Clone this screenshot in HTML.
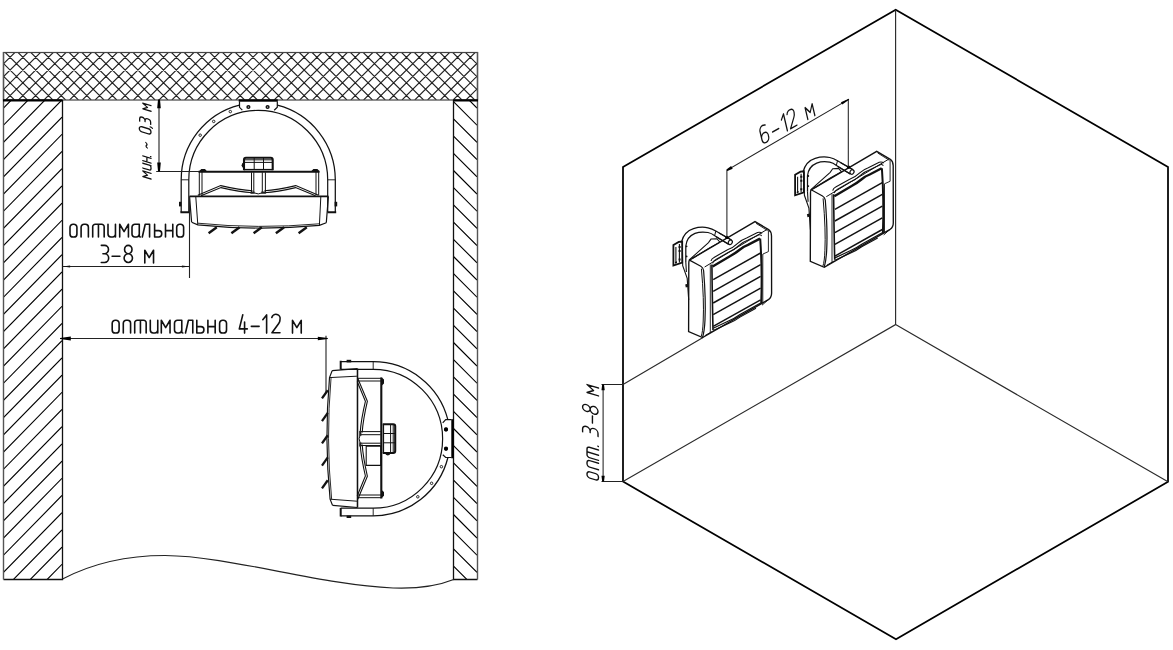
<!DOCTYPE html><html><head><meta charset="utf-8"><style>html,body{margin:0;padding:0;background:#fff;overflow:hidden}</style></head><body><svg width="1173" height="650" viewBox="0 0 1173 650" style="display:block">
<rect width="1173" height="650" fill="#fff"/>
<defs>
<clipPath id="ceil"><rect x="3" y="52" width="474" height="48"/></clipPath>
<clipPath id="lw"><rect x="3" y="100" width="59" height="479"/></clipPath>
<clipPath id="rw"><rect x="453.5" y="100" width="23.5" height="479"/></clipPath>
</defs>
<path clip-path="url(#ceil)" d="M-176.44,52 L-224.44,100 M-163.66,52 L-211.66,100 M-150.87,52 L-198.87,100 M-138.09,52 L-186.09,100 M-125.30,52 L-173.30,100 M-112.52,52 L-160.51,100 M-99.73,52 L-147.73,100 M-86.95,52 L-134.94,100 M-74.16,52 L-122.16,100 M-61.38,52 L-109.38,100 M-48.59,52 L-96.59,100 M-35.80,52 L-83.81,100 M-23.02,52 L-71.02,100 M-10.23,52 L-58.23,100 M2.55,52 L-45.45,100 M15.33,52 L-32.67,100 M28.12,52 L-19.88,100 M40.91,52 L-7.09,100 M53.69,52 L5.69,100 M66.47,52 L18.47,100 M79.26,52 L31.26,100 M92.04,52 L44.04,100 M104.83,52 L56.83,100 M117.62,52 L69.62,100 M130.40,52 L82.40,100 M143.19,52 L95.19,100 M155.97,52 L107.97,100 M168.75,52 L120.75,100 M181.54,52 L133.54,100 M194.32,52 L146.32,100 M207.11,52 L159.11,100 M219.90,52 L171.90,100 M232.68,52 L184.68,100 M245.47,52 L197.47,100 M258.25,52 L210.25,100 M271.04,52 L223.04,100 M283.82,52 L235.82,100 M296.61,52 L248.61,100 M309.39,52 L261.39,100 M322.18,52 L274.18,100 M334.96,52 L286.96,100 M347.75,52 L299.75,100 M360.53,52 L312.53,100 M373.32,52 L325.32,100 M386.10,52 L338.10,100 M398.89,52 L350.89,100 M411.67,52 L363.67,100 M424.46,52 L376.46,100 M437.24,52 L389.24,100 M450.03,52 L402.03,100 M462.81,52 L414.81,100 M475.60,52 L427.60,100 M488.38,52 L440.38,100 M501.16,52 L453.16,100 M513.95,52 L465.95,100 M526.74,52 L478.74,100 M-46.31,52 L1.69,100 M-33.53,52 L14.47,100 M-20.75,52 L27.25,100 M-7.96,52 L40.04,100 M4.83,52 L52.83,100 M17.61,52 L65.61,100 M30.39,52 L78.39,100 M43.18,52 L91.18,100 M55.97,52 L103.97,100 M68.75,52 L116.75,100 M81.53,52 L129.53,100 M94.32,52 L142.32,100 M107.11,52 L155.11,100 M119.89,52 L167.89,100 M132.68,52 L180.68,100 M145.46,52 L193.46,100 M158.25,52 L206.25,100 M171.03,52 L219.03,100 M183.81,52 L231.81,100 M196.60,52 L244.60,100 M209.39,52 L257.38,100 M222.17,52 L270.17,100 M234.96,52 L282.96,100 M247.74,52 L295.74,100 M260.52,52 L308.52,100 M273.31,52 L321.31,100 M286.10,52 L334.10,100 M298.88,52 L346.88,100 M311.66,52 L359.66,100 M324.45,52 L372.45,100 M337.23,52 L385.23,100 M350.02,52 L398.02,100 M362.81,52 L410.81,100 M375.59,52 L423.59,100 M388.38,52 L436.38,100 M401.16,52 L449.16,100 M413.94,52 L461.94,100 M426.73,52 L474.73,100 M439.51,52 L487.51,100 M452.30,52 L500.30,100 M465.08,52 L513.09,100 M477.87,52 L525.87,100" stroke="#222" stroke-width="1.1" fill="none"/>
<rect x="3.5" y="52.5" width="474" height="47.5" fill="none" stroke="#444" stroke-width="1.2"/>
<path clip-path="url(#lw)" d="M3,-80.70 L62,-140.90 M3,-63.50 L62,-123.70 M3,-46.30 L62,-106.50 M3,-29.10 L62,-89.30 M3,-11.90 L62,-72.10 M3,5.30 L62,-54.90 M3,22.50 L62,-37.70 M3,39.70 L62,-20.50 M3,56.90 L62,-3.30 M3,74.10 L62,13.90 M3,91.30 L62,31.10 M3,108.50 L62,48.30 M3,125.70 L62,65.50 M3,142.90 L62,82.70 M3,160.10 L62,99.90 M3,177.30 L62,117.10 M3,194.50 L62,134.30 M3,211.70 L62,151.50 M3,228.90 L62,168.70 M3,246.10 L62,185.90 M3,263.30 L62,203.10 M3,280.50 L62,220.30 M3,297.70 L62,237.50 M3,314.90 L62,254.70 M3,332.10 L62,271.90 M3,349.30 L62,289.10 M3,366.50 L62,306.30 M3,383.70 L62,323.50 M3,400.90 L62,340.70 M3,418.10 L62,357.90 M3,435.30 L62,375.10 M3,452.50 L62,392.30 M3,469.70 L62,409.50 M3,486.90 L62,426.70 M3,504.10 L62,443.90 M3,521.30 L62,461.10 M3,538.50 L62,478.30 M3,555.70 L62,495.50 M3,572.90 L62,512.70 M3,590.10 L62,529.90 M3,607.30 L62,547.10 M3,624.50 L62,564.30 M3,641.70 L62,581.50 M3,658.90 L62,598.70 M3,676.10 L62,615.90 M3,693.30 L62,633.10 M3,710.50 L62,650.30 M3,727.70 L62,667.50 M3,744.90 L62,684.70 M3,762.10 L62,701.90 M3,779.30 L62,719.10 M3,796.50 L62,736.30" stroke="#000" stroke-width="1.15" fill="none"/>
<path clip-path="url(#rw)" d="M453.5,789.70 L477,813.20 M453.5,772.50 L477,796.00 M453.5,755.30 L477,778.80 M453.5,738.10 L477,761.60 M453.5,720.90 L477,744.40 M453.5,703.70 L477,727.20 M453.5,686.50 L477,710.00 M453.5,669.30 L477,692.80 M453.5,652.10 L477,675.60 M453.5,634.90 L477,658.40 M453.5,617.70 L477,641.20 M453.5,600.50 L477,624.00 M453.5,583.30 L477,606.80 M453.5,566.10 L477,589.60 M453.5,548.90 L477,572.40 M453.5,531.70 L477,555.20 M453.5,514.50 L477,538.00 M453.5,497.30 L477,520.80 M453.5,480.10 L477,503.60 M453.5,462.90 L477,486.40 M453.5,445.70 L477,469.20 M453.5,428.50 L477,452.00 M453.5,411.30 L477,434.80 M453.5,394.10 L477,417.60 M453.5,376.90 L477,400.40 M453.5,359.70 L477,383.20 M453.5,342.50 L477,366.00 M453.5,325.30 L477,348.80 M453.5,308.10 L477,331.60 M453.5,290.90 L477,314.40 M453.5,273.70 L477,297.20 M453.5,256.50 L477,280.00 M453.5,239.30 L477,262.80 M453.5,222.10 L477,245.60 M453.5,204.90 L477,228.40 M453.5,187.70 L477,211.20 M453.5,170.50 L477,194.00 M453.5,153.30 L477,176.80 M453.5,136.10 L477,159.60 M453.5,118.90 L477,142.40 M453.5,101.70 L477,125.20 M453.5,84.50 L477,108.00 M453.5,67.30 L477,90.80 M453.5,50.10 L477,73.60 M453.5,32.90 L477,56.40 M453.5,15.70 L477,39.20 M453.5,-1.50 L477,22.00 M453.5,-18.70 L477,4.80 M453.5,-35.90 L477,-12.40 M453.5,-53.10 L477,-29.60 M453.5,-70.30 L477,-46.80 M453.5,-87.50 L477,-64.00" stroke="#000" stroke-width="1.15" fill="none"/>
<path d="M3.5,579.5 H62.5 V100 M453.5,100 V579.5 H477.5" fill="none" stroke="#111" stroke-width="1.3"/>
<path d="M3.5,52 V579.5 M477.5,52 V579.5" fill="none" stroke="#555" stroke-width="1.4"/>
<path d="M3,100.3 H62.5 M453.5,100.3 H478" stroke="#000" stroke-width="2.2"/>
<path d="M62.5,579 C95,562 130,555.5 165,555.5 C230,556 320,585 393,588 C420,589 440,585 453.7,579.5" fill="none" stroke="#222" stroke-width="1.2"/>
<g id="h1"><path fill="none" stroke="#111" stroke-width="1.25" d="M181.20,212.3 V179.8 A77.05,77.05 0 0 1 239.5,105.07 M277.3,105.14 A77.05,77.05 0 0 1 335.30,179.8 V212.3"/>
<path fill="none" stroke="#111" stroke-width="1.2" d="M188.80,212.3 V179.8 A69.45,69.45 0 0 1 327.70,179.8 V212.3"/>
<path fill="none" stroke="#111" stroke-width="0.9" d="M181.20,179.8 H188.80 M327.70,179.8 H335.30"/>
<path fill="none" stroke="#111" stroke-width="2" d="M180.4,212.3 H189 M327.5,212.3 H336.2"/>
<rect x="179" y="201.8" width="2.4" height="4.6" fill="#111"/>
<rect x="334.6" y="201.8" width="2.6" height="4.6" fill="#111"/>
<circle cx="230.3" cy="111.6" r="1.25" fill="none" stroke="#111" stroke-width="0.9"/>
<circle cx="213.7" cy="121.4" r="1.25" fill="none" stroke="#111" stroke-width="0.9"/>
<circle cx="200.2" cy="135.2" r="1.25" fill="none" stroke="#111" stroke-width="0.9"/>
<path fill="none" stroke="#111" stroke-width="1.2" d="M239.5,101.5 V107.3 L242.3,110.2 M277.3,101.5 V107.3 L274.2,110.3"/>
<rect x="238.7" y="99.3" width="39.1" height="2.4" fill="#000"/>
<circle cx="248.4" cy="107" r="1.35" fill="none" stroke="#111" stroke-width="1.5"/>
<circle cx="267.6" cy="107" r="1.35" fill="none" stroke="#111" stroke-width="1.5"/>
<path fill="none" stroke="#111" stroke-width="2.1" d="M198.5,171.7 H319.5"/>
<path d="M198.8,171.6 L201.3,169 H205 L207.2,171.6 Z M310.9,171.6 L313.4,169 H317.4 L319.8,171.6 Z" fill="#111"/>
<path fill="none" stroke="#111" stroke-width="1" d="M199.3,172 V195.6 M202,172 V195.6 M316,172 V195.2 M318.7,172 V195.2"/>
<path fill="none" stroke="#111" stroke-width="1.1" d="M197.8,195.2 L220.7,185.6 Q240,190 252.5,190.8 M264.5,190.8 Q277,190 295.8,185.6 L318.5,195.2"/>
<path fill="none" stroke="#111" stroke-width="1.1" d="M201,195.8 L221,187.6 Q240,192 252.5,192.8 M264.5,192.8 Q277,192 295.6,187.6 L315.5,195.8"/>
<path fill="none" stroke="#111" stroke-width="1" d="M251.5,172.3 V192.6 M253.8,172.3 V192.6 M262.3,172.3 V192.6 M265.4,172.3 V192.6 M253.8,192.8 Q258.5,195 262.3,192.8"/>
<path d="M250.5,191.6 h4 v2.2 h-4 Z M261.3,191.6 h4.6 v2.2 h-4.6 Z" fill="#222"/>
<path fill="none" stroke="#111" stroke-width="2.1" d="M244,170.3 V159.8 Q244,157.8 246,157.8 H270.7 Q272.7,157.8 272.7,159.8 V170.3"/>
<path fill="none" stroke="#111" stroke-width="1" d="M245,159.8 H272 M245,162.4 H272 M254.2,158 V170 M263.5,158 V170"/>
<path d="M244.2,162.3 Q241.6,162.8 241.6,165.2 Q241.6,167.6 244.2,168 Z" fill="#111"/>
<path fill="none" stroke="#111" stroke-width="1.4" d="M244,169.6 H272.7"/>

<path fill="none" stroke="#111" stroke-width="1.6" d="M189.5,196.4 H328.4"/>
<path fill="none" stroke="#111" stroke-width="1.2" d="M189.5,196.4 L191.6,222 M328.4,196.4 L326.3,222.7"/>
<path fill="none" stroke="#111" stroke-width="1" d="M195.8,197 L197.8,224.8 M320.8,197 L319.4,225.4"/>
<path fill="none" stroke="#111" stroke-width="1.2" d="M191.6,222.2 L197.8,224.8 Q258,231 319.4,225.4 L326.3,222.7"/>
<path fill="none" stroke="#111" stroke-width="0.9" d="M197.8,223.2 Q258,229.3 319.4,223.8"/>
<path fill="none" stroke="#111" stroke-width="2.4" d="M208.6,233.2 L216.8,227.2"/>
<path fill="none" stroke="#111" stroke-width="2.4" d="M231.4,233.2 L239.6,227.2"/>
<path fill="none" stroke="#111" stroke-width="2.4" d="M253.6,233.2 L261.8,227.2"/>
<path fill="none" stroke="#111" stroke-width="2.4" d="M275.9,233.2 L284.1,227.2"/>
<path fill="none" stroke="#111" stroke-width="2.4" d="M298.6,233.2 L306.8,227.2"/></g>
<g transform="matrix(0,-1,-1,0,553,697)"><path fill="none" stroke="#111" stroke-width="1.25" d="M181.20,212.3 V179.8 A77.05,77.05 0 0 1 239.5,105.07 M277.3,105.14 A77.05,77.05 0 0 1 335.30,179.8 V212.3"/>
<path fill="none" stroke="#111" stroke-width="1.2" d="M188.80,212.3 V179.8 A69.45,69.45 0 0 1 327.70,179.8 V212.3"/>
<path fill="none" stroke="#111" stroke-width="0.9" d="M181.20,179.8 H188.80 M327.70,179.8 H335.30"/>
<path fill="none" stroke="#111" stroke-width="2" d="M180.4,212.3 H189 M327.5,212.3 H336.2"/>
<rect x="179" y="201.8" width="2.4" height="4.6" fill="#111"/>
<rect x="334.6" y="201.8" width="2.6" height="4.6" fill="#111"/>
<circle cx="230.3" cy="111.6" r="1.25" fill="none" stroke="#111" stroke-width="0.9"/>
<circle cx="213.7" cy="121.4" r="1.25" fill="none" stroke="#111" stroke-width="0.9"/>
<circle cx="200.2" cy="135.2" r="1.25" fill="none" stroke="#111" stroke-width="0.9"/>
<path fill="none" stroke="#111" stroke-width="1.2" d="M239.5,101.5 V107.3 L242.3,110.2 M277.3,101.5 V107.3 L274.2,110.3"/>
<rect x="238.7" y="99.3" width="39.1" height="2.4" fill="#000"/>
<circle cx="248.4" cy="107" r="1.35" fill="none" stroke="#111" stroke-width="1.5"/>
<circle cx="267.6" cy="107" r="1.35" fill="none" stroke="#111" stroke-width="1.5"/>
<path fill="none" stroke="#111" stroke-width="2.1" d="M198.5,171.7 H319.5"/>
<path d="M198.8,171.6 L201.3,169 H205 L207.2,171.6 Z M310.9,171.6 L313.4,169 H317.4 L319.8,171.6 Z" fill="#111"/>
<path fill="none" stroke="#111" stroke-width="1" d="M199.3,172 V195.6 M202,172 V195.6 M316,172 V195.2 M318.7,172 V195.2"/>
<path fill="none" stroke="#111" stroke-width="1.1" d="M197.8,195.2 L220.7,185.6 Q240,190 252.5,190.8 M264.5,190.8 Q277,190 295.8,185.6 L318.5,195.2"/>
<path fill="none" stroke="#111" stroke-width="1.1" d="M201,195.8 L221,187.6 Q240,192 252.5,192.8 M264.5,192.8 Q277,192 295.6,187.6 L315.5,195.8"/>
<path fill="none" stroke="#111" stroke-width="1" d="M251.5,172.3 V192.6 M253.8,172.3 V192.6 M262.3,172.3 V192.6 M265.4,172.3 V192.6 M253.8,192.8 Q258.5,195 262.3,192.8"/>
<path d="M250.5,191.6 h4 v2.2 h-4 Z M261.3,191.6 h4.6 v2.2 h-4.6 Z" fill="#222"/>
<path fill="none" stroke="#111" stroke-width="2.1" d="M244,170.3 V159.8 Q244,157.8 246,157.8 H270.7 Q272.7,157.8 272.7,159.8 V170.3"/>
<path fill="none" stroke="#111" stroke-width="1" d="M245,159.8 H272 M245,162.4 H272 M254.2,158 V170 M263.5,158 V170"/>
<path d="M244.2,162.3 Q241.6,162.8 241.6,165.2 Q241.6,167.6 244.2,168 Z" fill="#111"/>
<path fill="none" stroke="#111" stroke-width="1.4" d="M244,169.6 H272.7"/>
<g transform="translate(0,171) scale(1,0.965) translate(0,-171)">
<path fill="none" stroke="#111" stroke-width="1.6" d="M189.5,196.4 H328.4"/>
<path fill="none" stroke="#111" stroke-width="1.2" d="M189.5,196.4 L191.6,222 M328.4,196.4 L326.3,222.7"/>
<path fill="none" stroke="#111" stroke-width="1" d="M195.8,197 L197.8,224.8 M320.8,197 L319.4,225.4"/>
<path fill="none" stroke="#111" stroke-width="1.2" d="M191.6,222.2 L197.8,224.8 Q258,231 319.4,225.4 L326.3,222.7"/>
<path fill="none" stroke="#111" stroke-width="0.9" d="M197.8,223.2 Q258,229.3 319.4,223.8"/>
<path fill="none" stroke="#111" stroke-width="2.4" d="M208.6,233.2 L216.8,227.2"/>
<path fill="none" stroke="#111" stroke-width="2.4" d="M231.4,233.2 L239.6,227.2"/>
<path fill="none" stroke="#111" stroke-width="2.4" d="M253.6,233.2 L261.8,227.2"/>
<path fill="none" stroke="#111" stroke-width="2.4" d="M275.9,233.2 L284.1,227.2"/>
<path fill="none" stroke="#111" stroke-width="2.4" d="M298.6,233.2 L306.8,227.2"/></g></g>
<path d="M366.2,446.2 H380.8 V465.4 H366.2 Z" fill="none" stroke="#111" stroke-width="1.1"/>
<circle cx="446" cy="429.5" r="1.9" fill="#000"/><circle cx="446" cy="448.8" r="1.9" fill="#000"/>
<path d="M159,100.5 V171.2 M156.2,171.5 H199" stroke="#222" stroke-width="1.1" fill="none"/>
<path d="M158,99.6 H160 L160.8,108.2 H157.2 Z" fill="#000"/>
<path d="M158,171.2 H160 L160.8,162.6 H157.2 Z" fill="#000"/>
<path d="M62.5,266.5 H189.5 M189.5,197 V278" stroke="#222" stroke-width="1.1" fill="none"/>
<path d="M62.60,266.50 L70.10,265.40 L70.10,267.60 Z" fill="#111"/>
<path d="M189.40,266.50 L181.90,267.60 L181.90,265.40 Z" fill="#111"/>
<path d="M62.5,338.5 H326 M326,335.7 V392" stroke="#222" stroke-width="1.1" fill="none"/>
<path d="M60.00,338.05 L60.00,338.95 L70.80,340.40 L70.80,336.60 Z" fill="#000"/>
<path d="M327.80,338.95 L327.80,338.05 L317.80,336.70 L317.80,340.30 Z" fill="#000"/>
<g transform="matrix(1.8200,0.0000,0.0000,1.8200,70.000,218.800)" fill="none" stroke="#111" stroke-width="0.879" stroke-linecap="round" stroke-linejoin="round"><path transform="translate(0.000,0)" d="M0,4.7 V8.3 A1.7,1.7 0 0 0 1.7,10 H2.1 A1.7,1.7 0 0 0 3.8,8.3 V4.7 A1.7,1.7 0 0 0 2.1,3 H1.7 A1.7,1.7 0 0 0 0,4.7 Z"/><path transform="translate(6.099,0)" d="M0,10 V4.6 A1.6,1.6 0 0 1 1.6,3 H2.4 A1.6,1.6 0 0 1 4,4.6 V10"/><path transform="translate(12.473,0)" d="M0,10 V4.4 A1.4,1.4 0 0 1 1.4,3 H4.9 A1.4,1.4 0 0 1 6.3,4.4 V10 M3.15,3 V10"/><path transform="translate(20.879,0)" d="M0,3 V8.4 A1.6,1.6 0 0 0 1.6,10 H2.5 A1.6,1.6 0 0 0 4.1,8.4 M4.1,3 V10"/><path transform="translate(27.308,0)" d="M0,10 V3 L2.4,7.0 L4.8,3 V10"/><path transform="translate(34.066,0)" d="M4.0,3 V9.3 Q4.0,10 4.6,10 M4.0,8.4 A1.6,1.6 0 0 1 2.4,10 H1.6 A1.6,1.6 0 0 1 0,8.4 V4.6 A1.6,1.6 0 0 1 1.6,3 H4.0"/><path transform="translate(39.725,0)" d="M0,10 L1.6,3 H4.0 V10"/><path transform="translate(46.484,0)" d="M0,3 V10 H2.3 A1.6,1.6 0 0 0 3.9,8.4 V8.1 A1.6,1.6 0 0 0 2.3,6.5 H0"/><path transform="translate(52.473,0)" d="M0,3 V10 M4.0,3 V10 M0,6.5 H4.0"/><path transform="translate(58.626,0)" d="M0,4.7 V8.3 A1.7,1.7 0 0 0 1.7,10 H2.1 A1.7,1.7 0 0 0 3.8,8.3 V4.7 A1.7,1.7 0 0 0 2.1,3 H1.7 A1.7,1.7 0 0 0 0,4.7 Z"/></g>
<g transform="matrix(1.8200,0.0000,0.0000,1.8200,101.300,244.800)" fill="none" stroke="#111" stroke-width="0.879" stroke-linecap="round" stroke-linejoin="round"><path transform="translate(0.000,0)" d="M0,0.3 H1.8 A2.15,2.3 0 0 1 1.8,4.9 H0.9 M1.8,4.9 A2.25,2.4 0 0 1 1.8,9.7 H0"/><path transform="translate(12.527,0)" d="M2.3,4.9 A2.05,2.3 0 1 1 2.3,0.3 A2.05,2.3 0 1 1 2.3,4.9 Z M2.3,4.9 A2.3,2.4 0 1 1 2.3,9.7 A2.3,2.4 0 1 1 2.3,4.9 Z"/><path transform="translate(23.901,0)" d="M0,10 V3 L2.4,7.0 L4.8,3 V10"/></g>
<g transform="matrix(1.8200,0.0000,0.0000,1.8200,112.100,244.800)" fill="none" stroke="#111" stroke-width="0.879" stroke-linecap="round" stroke-linejoin="round"><path transform="translate(0.000,0)" d="M0,6.3 H4.3"/></g>
<g transform="matrix(1.8200,0.0000,0.0000,1.8200,112.200,314.800)" fill="none" stroke="#111" stroke-width="0.879" stroke-linecap="round" stroke-linejoin="round"><path transform="translate(0.000,0)" d="M0,4.7 V8.3 A1.7,1.7 0 0 0 1.7,10 H2.1 A1.7,1.7 0 0 0 3.8,8.3 V4.7 A1.7,1.7 0 0 0 2.1,3 H1.7 A1.7,1.7 0 0 0 0,4.7 Z"/><path transform="translate(6.099,0)" d="M0,10 V4.6 A1.6,1.6 0 0 1 1.6,3 H2.4 A1.6,1.6 0 0 1 4,4.6 V10"/><path transform="translate(12.363,0)" d="M0,10 V4.4 A1.4,1.4 0 0 1 1.4,3 H4.9 A1.4,1.4 0 0 1 6.3,4.4 V10 M3.15,3 V10"/><path transform="translate(20.934,0)" d="M0,3 V8.4 A1.6,1.6 0 0 0 1.6,10 H2.5 A1.6,1.6 0 0 0 4.1,8.4 M4.1,3 V10"/><path transform="translate(26.978,0)" d="M0,10 V3 L2.4,7.0 L4.8,3 V10"/><path transform="translate(34.231,0)" d="M4.0,3 V9.3 Q4.0,10 4.6,10 M4.0,8.4 A1.6,1.6 0 0 1 2.4,10 H1.6 A1.6,1.6 0 0 1 0,8.4 V4.6 A1.6,1.6 0 0 1 1.6,3 H4.0"/><path transform="translate(40.275,0)" d="M0,10 L1.6,3 H4.0 V10"/><path transform="translate(46.484,0)" d="M0,3 V10 H2.3 A1.6,1.6 0 0 0 3.9,8.4 V8.1 A1.6,1.6 0 0 0 2.3,6.5 H0"/><path transform="translate(52.582,0)" d="M0,3 V10 M4.0,3 V10 M0,6.5 H4.0"/><path transform="translate(59.011,0)" d="M0,4.7 V8.3 A1.7,1.7 0 0 0 1.7,10 H2.1 A1.7,1.7 0 0 0 3.8,8.3 V4.7 A1.7,1.7 0 0 0 2.1,3 H1.7 A1.7,1.7 0 0 0 0,4.7 Z"/></g>
<g transform="matrix(1.8200,0.0000,0.0000,1.8200,239.300,314.900)" fill="none" stroke="#111" stroke-width="0.879" stroke-linecap="round" stroke-linejoin="round"><path transform="translate(0.000,0)" d="M1.9,0 L0,7.7 H4.4 M2.9,3.9 V10"/><path transform="translate(6.593,0)" d="M0,6.3 H4.3"/><path transform="translate(12.912,0)" d="M0,2.6 L2.1,0 V10"/><path transform="translate(17.857,0)" d="M0,1.4 A2.3,2.3 0 0 1 4.5,2.6 Q4.5,3.7 3.8,4.7 L0.1,9.8 H4.5"/><path transform="translate(29.231,0)" d="M0,10 V3 L2.4,7.0 L4.8,3 V10"/></g>
<g transform="matrix(0.0000,-1.1700,1.1700,0.3510,139.300,175.490)" fill="none" stroke="#111" stroke-width="1.111" stroke-linecap="round" stroke-linejoin="round"><path transform="translate(0.000,0)" d="M0,10 V3 L2.4,7.0 L4.8,3 V10"/><path transform="translate(7.250,0)" d="M0,3 V8.4 A1.6,1.6 0 0 0 1.6,10 H2.5 A1.6,1.6 0 0 0 4.1,8.4 M4.1,3 V10"/><path transform="translate(13.600,0)" d="M0,3 V10 M4.0,3 V10 M0,6.5 H4.0"/><path transform="translate(18.600,0)" d="M0.45,9.6 V9.9"/><path transform="translate(25.600,0)" d="M0,6.8 Q1,5.2 2.1,6.2 Q3.2,7.2 4.2,5.6"/><path transform="translate(37.900,0)" d="M0,2.2 V7.8 A2.2,2.2 0 0 0 4.4,7.8 V2.2 A2.2,2.2 0 0 0 0,2.2 Z"/><path transform="translate(43.400,0)" d="M0.9,9.3 V9.8 L0.3,11.2"/><path transform="translate(46.600,0)" d="M0,0.3 H1.8 A2.15,2.3 0 0 1 1.8,4.9 H0.9 M1.8,4.9 A2.25,2.4 0 0 1 1.8,9.7 H0"/><path transform="translate(57.900,0)" d="M0,10 V3 L2.4,7.0 L4.8,3 V10"/></g>
<path d="M895.7,9.7 L1168,167 V481.8 L896,639.2 L623,481.6 V167 Z" fill="none" stroke="#000" stroke-width="1.75" stroke-linejoin="miter"/>
<path d="M895.6,10 V324.6 L623,481.6 M895.6,324.6 L1168,481.8 M623,384.4 L703,337.6" fill="none" stroke="#2a2a2a" stroke-width="1.15"/>
<g transform="translate(0,0)">
<path fill="none" stroke="#111" stroke-width="1.8" fill="#fff" d="M673.4,245 L678.8,241.9 L682.2,241.6 V262.6 L673.4,265.6 Z"/>
<path fill="none" stroke="#111" stroke-width="1.1" d="M675.9,247 V263.5 M679.4,244 V262.5"/>
<path d="M678.6,246 h2 v2 h-2 Z M678.6,250 h2 v2 h-2 Z M678.6,258.5 h2 v2 h-2 Z M675,262 l2,-0.7 v1.6 l-2,0.6 Z" fill="#111"/>
<path fill="none" stroke="#111" stroke-width="1.1" d="M682.3,242 L682.7,265.6 L687.2,278.4 L688.7,300 M685.8,262 L686.4,272"/>
<path d="M685.2,284.6 l2.4,-0.8 l0.6,3 l-2.4,0.8 Z" fill="#111"/>
<circle cx="686.6" cy="246.3" r="0.9" fill="#111"/><circle cx="686.6" cy="256.4" r="0.9" fill="#111"/>
<path fill="none" stroke="#111" stroke-width="1.25" d="M681.5,241.8 C683,236 687.5,230.5 693.5,228.6 C698.5,227.1 704,227 708,227.8 C711,228.5 713.8,229.8 715.8,231 L731.4,240"/>
<path fill="none" stroke="#111" stroke-width="1.25" d="M685.8,262 V246 C686.4,240.5 689.8,235.5 695,233.4 C699,231.9 704,231.8 708,232.5 C710.5,233 712.8,234.3 714.8,235.8 L728.6,244.3"/>
<path fill="none" stroke="#111" stroke-width="1" d="M715.8,231 L714.6,235.8"/>
<path fill="none" stroke="#111" stroke-width="1.05" d="M688.9,260.2 L708.5,242.6 L711,239.1 L716.9,238.7 L719.9,242.1 M692.6,258.3 L708.2,248.6 L719.9,242.1"/>
<path fill="none" stroke="#111" stroke-width="1.35" fill="#fff" d="M689.5,260.1 L755,221.6 L768.6,229.6 Q771.4,231.5 771.5,236 L771.6,293 Q771.6,297.6 768.4,299.6 L702.6,337.6 L688.6,331.6 L688.8,263 Q688.8,260.6 689.5,260.1 Z"/>
<path fill="none" stroke="#111" stroke-width="1.2" d="M719,233 L731.4,240 M716,236.8 L728.6,244.3"/>
<ellipse cx="730.3" cy="242.3" rx="1.9" ry="2.4" transform="rotate(30 730.3 242.3)" fill="none" stroke="#111" fill="#fff" stroke-width="1.2"/>
<circle cx="726.9" cy="237.4" r="1.7" fill="#000"/>
<path fill="none" stroke="#111" stroke-width="0.9" d="M756,223.3 L767.6,230.6"/>
<path fill="none" stroke="#111" stroke-width="1.2" d="M689.5,260.1 L700.8,266.3 Q703.2,267.6 703.6,270.5 Q706,300 705,320 Q704.5,331 702.6,337.2"/>
<path fill="none" stroke="#111" stroke-width="1.0" d="M701.4,268.6 Q704.2,300 703.2,321 Q702.8,332 701.2,336.4"/>
<path fill="none" stroke="#111" stroke-width="0.9" d="M710.3,264.5 V333"/>
<path fill="none" stroke="#111" stroke-width="1" d="M704.6,267.0 L767.1,229.4"/>
<path fill="none" stroke="#111" stroke-width="1.1" d="M711,261 Q711.5,258.6 714,257.4 L727.5,249.8 Q733,248 738,243.2 Q742.4,239.4 746.6,238 L757.5,232.5 Q760.5,231.7 762,233.5"/>
<path fill="none" stroke="#111" stroke-width="1.05" d="M712.6,263.4 Q713,261 715.5,259.8 L728.5,252.2 Q734,250.2 739,245.5 Q743.4,241.7 747.6,240.3 L758.5,235 Q761,234.4 761.6,236"/>
<path fill="none" stroke="#111" stroke-width="2.4" d="M712.6,266.5 L729.5,256.5 Q735,253.6 740,249.5 Q744,246.3 748,244.8 L760,238.6"/>
<path fill="none" stroke="#111" stroke-width="0.9" d="M768.4,230.5 V251.6 L763,254 M762.8,254 V303"/>
<path fill="none" stroke="#111" stroke-width="1.5" d="M713.2,279.6 L760.6,253.0"/>
<path fill="none" stroke="#111" stroke-width="1.5" d="M713.2,291.3 L760.6,264.7"/>
<path fill="none" stroke="#111" stroke-width="1.5" d="M713.2,303.0 L760.6,276.4"/>
<path fill="none" stroke="#111" stroke-width="1.5" d="M713.2,314.7 L760.6,288.1"/>
<path fill="none" stroke="#111" stroke-width="1.5" d="M713.2,326.4 L760.6,299.8"/>
<path fill="none" stroke="#111" stroke-width="1.6" d="M711.9,264.5 Q712.3,300 713,330"/>
<path fill="none" stroke="#111" stroke-width="2.0" d="M760.2,238.5 Q762.4,270 761.2,303.5"/>
<path fill="none" stroke="#111" stroke-width="1.2" d="M713.2,328.2 L729,320.8 Q734.5,318.6 740,314.6 L760.6,303"/>
<path fill="none" stroke="#111" stroke-width="1.1" d="M713.2,330.5 L729,323.3 Q734.5,321.1 740,317.1 L756,308.2"/>
<path fill="none" stroke="#111" stroke-width="1" d="M705,335.6 L713,331 M762,305.2 L768.4,299.6"/>
</g>
<g transform="translate(121.7,-70.3)">
<path fill="none" stroke="#111" stroke-width="1.8" fill="#fff" d="M673.4,245 L678.8,241.9 L682.2,241.6 V262.6 L673.4,265.6 Z"/>
<path fill="none" stroke="#111" stroke-width="1.1" d="M675.9,247 V263.5 M679.4,244 V262.5"/>
<path d="M678.6,246 h2 v2 h-2 Z M678.6,250 h2 v2 h-2 Z M678.6,258.5 h2 v2 h-2 Z M675,262 l2,-0.7 v1.6 l-2,0.6 Z" fill="#111"/>
<path fill="none" stroke="#111" stroke-width="1.1" d="M682.3,242 L682.7,265.6 L687.2,278.4 L688.7,300 M685.8,262 L686.4,272"/>
<path d="M685.2,284.6 l2.4,-0.8 l0.6,3 l-2.4,0.8 Z" fill="#111"/>
<circle cx="686.6" cy="246.3" r="0.9" fill="#111"/><circle cx="686.6" cy="256.4" r="0.9" fill="#111"/>
<path fill="none" stroke="#111" stroke-width="1.25" d="M681.5,241.8 C683,236 687.5,230.5 693.5,228.6 C698.5,227.1 704,227 708,227.8 C711,228.5 713.8,229.8 715.8,231 L731.4,240"/>
<path fill="none" stroke="#111" stroke-width="1.25" d="M685.8,262 V246 C686.4,240.5 689.8,235.5 695,233.4 C699,231.9 704,231.8 708,232.5 C710.5,233 712.8,234.3 714.8,235.8 L728.6,244.3"/>
<path fill="none" stroke="#111" stroke-width="1" d="M715.8,231 L714.6,235.8"/>
<path fill="none" stroke="#111" stroke-width="1.05" d="M688.9,260.2 L708.5,242.6 L711,239.1 L716.9,238.7 L719.9,242.1 M692.6,258.3 L708.2,248.6 L719.9,242.1"/>
<path fill="none" stroke="#111" stroke-width="1.35" fill="#fff" d="M689.5,260.1 L755,221.6 L768.6,229.6 Q771.4,231.5 771.5,236 L771.6,293 Q771.6,297.6 768.4,299.6 L702.6,337.6 L688.6,331.6 L688.8,263 Q688.8,260.6 689.5,260.1 Z"/>
<path fill="none" stroke="#111" stroke-width="1.2" d="M719,233 L731.4,240 M716,236.8 L728.6,244.3"/>
<ellipse cx="730.3" cy="242.3" rx="1.9" ry="2.4" transform="rotate(30 730.3 242.3)" fill="none" stroke="#111" fill="#fff" stroke-width="1.2"/>
<circle cx="726.9" cy="237.4" r="1.7" fill="#000"/>
<path fill="none" stroke="#111" stroke-width="0.9" d="M756,223.3 L767.6,230.6"/>
<path fill="none" stroke="#111" stroke-width="1.2" d="M689.5,260.1 L700.8,266.3 Q703.2,267.6 703.6,270.5 Q706,300 705,320 Q704.5,331 702.6,337.2"/>
<path fill="none" stroke="#111" stroke-width="1.0" d="M701.4,268.6 Q704.2,300 703.2,321 Q702.8,332 701.2,336.4"/>
<path fill="none" stroke="#111" stroke-width="0.9" d="M710.3,264.5 V333"/>
<path fill="none" stroke="#111" stroke-width="1" d="M704.6,267.0 L767.1,229.4"/>
<path fill="none" stroke="#111" stroke-width="1.1" d="M711,261 Q711.5,258.6 714,257.4 L727.5,249.8 Q733,248 738,243.2 Q742.4,239.4 746.6,238 L757.5,232.5 Q760.5,231.7 762,233.5"/>
<path fill="none" stroke="#111" stroke-width="1.05" d="M712.6,263.4 Q713,261 715.5,259.8 L728.5,252.2 Q734,250.2 739,245.5 Q743.4,241.7 747.6,240.3 L758.5,235 Q761,234.4 761.6,236"/>
<path fill="none" stroke="#111" stroke-width="2.4" d="M712.6,266.5 L729.5,256.5 Q735,253.6 740,249.5 Q744,246.3 748,244.8 L760,238.6"/>
<path fill="none" stroke="#111" stroke-width="0.9" d="M768.4,230.5 V251.6 L763,254 M762.8,254 V303"/>
<path fill="none" stroke="#111" stroke-width="1.5" d="M713.2,279.6 L760.6,253.0"/>
<path fill="none" stroke="#111" stroke-width="1.5" d="M713.2,291.3 L760.6,264.7"/>
<path fill="none" stroke="#111" stroke-width="1.5" d="M713.2,303.0 L760.6,276.4"/>
<path fill="none" stroke="#111" stroke-width="1.5" d="M713.2,314.7 L760.6,288.1"/>
<path fill="none" stroke="#111" stroke-width="1.5" d="M713.2,326.4 L760.6,299.8"/>
<path fill="none" stroke="#111" stroke-width="1.6" d="M711.9,264.5 Q712.3,300 713,330"/>
<path fill="none" stroke="#111" stroke-width="2.0" d="M760.2,238.5 Q762.4,270 761.2,303.5"/>
<path fill="none" stroke="#111" stroke-width="1.2" d="M713.2,328.2 L729,320.8 Q734.5,318.6 740,314.6 L760.6,303"/>
<path fill="none" stroke="#111" stroke-width="1.1" d="M713.2,330.5 L729,323.3 Q734.5,321.1 740,317.1 L756,308.2"/>
<path fill="none" stroke="#111" stroke-width="1" d="M705,335.6 L713,331 M762,305.2 L768.4,299.6"/>
</g>
<path d="M726.9,237 V170.3 L848.3,99.6 V166.8" fill="none" stroke="#222" stroke-width="1.05"/>
<path d="M726.45,169.52 L727.35,171.08 L732.72,168.79 L731.12,166.01 Z" fill="#000"/>
<path d="M849.20,99.45 L848.80,98.75 L840.94,102.14 L842.34,104.56 Z" fill="#000"/>
<g transform="matrix(1.4600,-0.8100,0.4000,1.7000,759.050,127.400)" fill="none" stroke="#111" stroke-width="0.806" stroke-linecap="round" stroke-linejoin="round"><path transform="translate(0.000,0)" d="M4.0,0.5 Q3.4,0 2.3,0 A2.3,2.5 0 0 0 0,2.5 V7.5 A2.25,2.4 0 0 0 4.5,7.5 V7.1 A2.25,2.4 0 0 0 0.05,6.2"/><path transform="translate(7.500,0)" d="M0,6.3 H4.3"/><path transform="translate(14.600,0)" d="M0,2.6 L2.1,0 V10"/><path transform="translate(18.800,0)" d="M0,1.4 A2.3,2.3 0 0 1 4.5,2.6 Q4.5,3.7 3.8,4.7 L0.1,9.8 H4.5"/><path transform="translate(30.700,0)" d="M0,10 V3 L2.4,7.0 L4.8,3 V10"/></g>
<path d="M603.1,384.6 V481.4 M601.5,384.5 H623 M601.5,481.5 H623" fill="none" stroke="#222" stroke-width="1.05"/>
<path d="M602.2,384.4 H604 L604.7,390.2 H601.5 Z" fill="#000"/>
<path d="M602.2,481.5 H604 L604.7,475.7 H601.5 Z" fill="#000"/>
<g transform="matrix(0.0000,-1.6400,1.6400,0.4920,582.100,475.780)" fill="none" stroke="#111" stroke-width="0.854" stroke-linecap="round" stroke-linejoin="round"><path transform="translate(0.000,0)" d="M0,4.7 V8.3 A1.7,1.7 0 0 0 1.7,10 H2.1 A1.7,1.7 0 0 0 3.8,8.3 V4.7 A1.7,1.7 0 0 0 2.1,3 H1.7 A1.7,1.7 0 0 0 0,4.7 Z"/><path transform="translate(6.650,0)" d="M0,10 V4.6 A1.6,1.6 0 0 1 1.6,3 H2.4 A1.6,1.6 0 0 1 4,4.6 V10"/><path transform="translate(12.400,0)" d="M0,10 V4.4 A1.4,1.4 0 0 1 1.4,3 H4.9 A1.4,1.4 0 0 1 6.3,4.4 V10 M3.15,3 V10"/><path transform="translate(20.400,0)" d="M0.45,9.6 V9.9"/><path transform="translate(26.900,0)" d="M0,0.3 H1.8 A2.15,2.3 0 0 1 1.8,4.9 H0.9 M1.8,4.9 A2.25,2.4 0 0 1 1.8,9.7 H0"/><path transform="translate(34.000,0)" d="M0,6.3 H4.3"/><path transform="translate(39.800,0)" d="M2.3,4.9 A2.05,2.3 0 1 1 2.3,0.3 A2.05,2.3 0 1 1 2.3,4.9 Z M2.3,4.9 A2.3,2.4 0 1 1 2.3,9.7 A2.3,2.4 0 1 1 2.3,4.9 Z"/><path transform="translate(51.700,0)" d="M0,10 V3 L2.4,7.0 L4.8,3 V10"/></g>
</svg></body></html>
